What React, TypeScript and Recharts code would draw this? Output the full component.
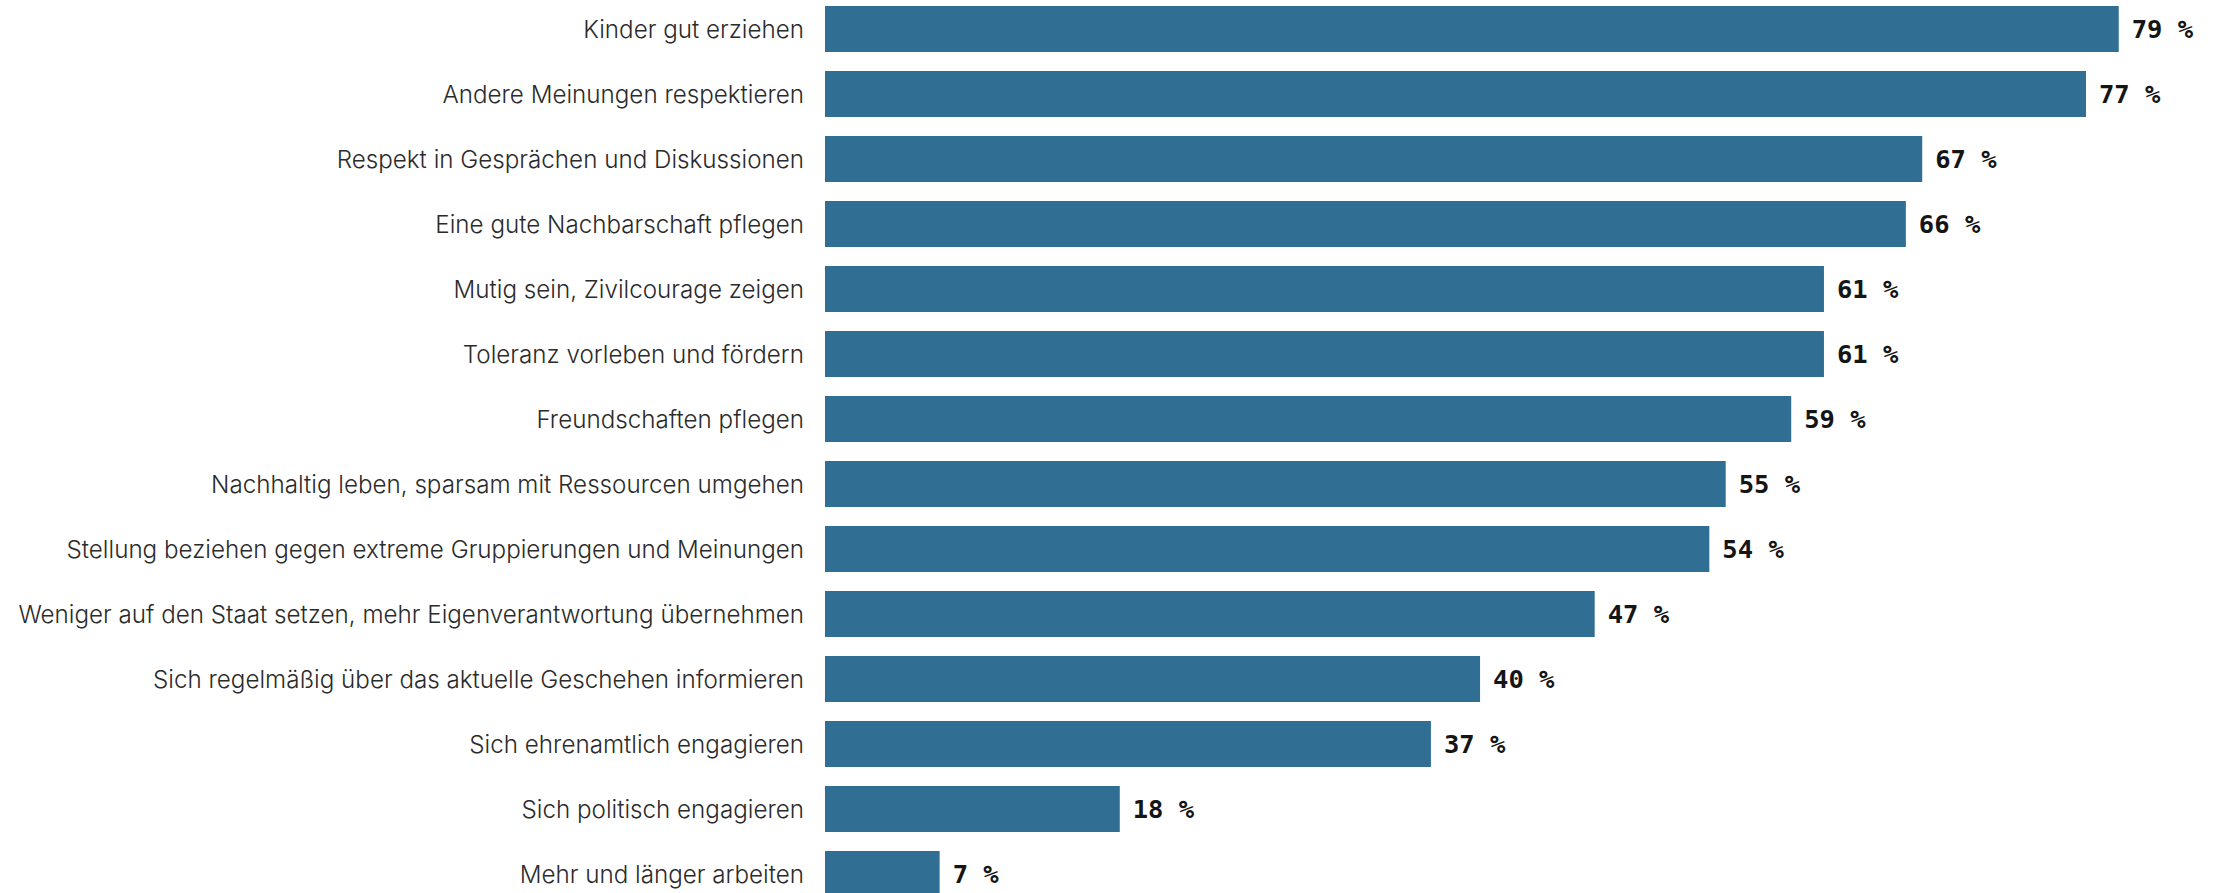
import { BarChart, Bar, XAxis, YAxis, LabelList } from 'recharts'

const categories = [
  'Kinder gut erziehen',
  'Andere Meinungen respektieren',
  'Respekt in Gesprächen und Diskussionen',
  'Eine gute Nachbarschaft pflegen',
  'Mutig sein, Zivilcourage zeigen',
  'Toleranz vorleben und fördern',
  'Freundschaften pflegen',
  'Nachhaltig leben, sparsam mit Ressourcen umgehen',
  'Stellung beziehen gegen extreme Gruppierungen und Meinungen',
  'Weniger auf den Staat setzen, mehr Eigenverantwortung übernehmen',
  'Sich regelmäßig über das aktuelle Geschehen informieren',
  'Sich ehrenamtlich engagieren',
  'Sich politisch engagieren',
  'Mehr und länger arbeiten',
]

const values = [79, 77, 67, 66, 61, 61, 59, 55, 54, 47, 40, 37, 18, 7]

const data = categories.map((name, i) => ({ name, value: values[i] }))

function CategoryTick(props: any) {
  const { x, y, payload } = props
  return (
    <text
      x={x - 13}
      y={y}
      dy={9}
      textAnchor="end"
      fontFamily="Inter, sans-serif"
      fontWeight={300}
      fontSize={24.2}
      fill="#2b2b2b"
    >
      {payload.value}
    </text>
  )
}

export default function App() {
  return (
    <div
      style={{
        position: 'absolute',
        left: 0,
        top: 0,
        width: 2225,
        height: 893,
        overflow: 'hidden',
        background: '#fff',
      }}
    >
      <div style={{ position: 'absolute', left: 0, top: -4.5 }}>
        <BarChart
          width={2225}
          height={910}
          data={data}
          layout="vertical"
          margin={{ top: 0, right: 8, bottom: 0, left: 0 }}
        >
          <XAxis type="number" domain={[0, 85]} hide />
          <YAxis
            type="category"
            dataKey="name"
            width={825}
            tickLine={false}
            axisLine={false}
            tick={<CategoryTick />}
            interval={0}
          />
          <Bar dataKey="value" fill="#306f93" barSize={46} isAnimationActive={false}>
            <LabelList
              dataKey="value"
              position="right"
              offset={13}
              formatter={(v: any) => `${v} %`}
              style={{
                fontFamily: '"DejaVu Sans Mono", monospace',
                fontWeight: 700,
                fontSize: 25.5,
                fill: '#151515',
              }}
            />
          </Bar>
        </BarChart>
      </div>
    </div>
  )
}
